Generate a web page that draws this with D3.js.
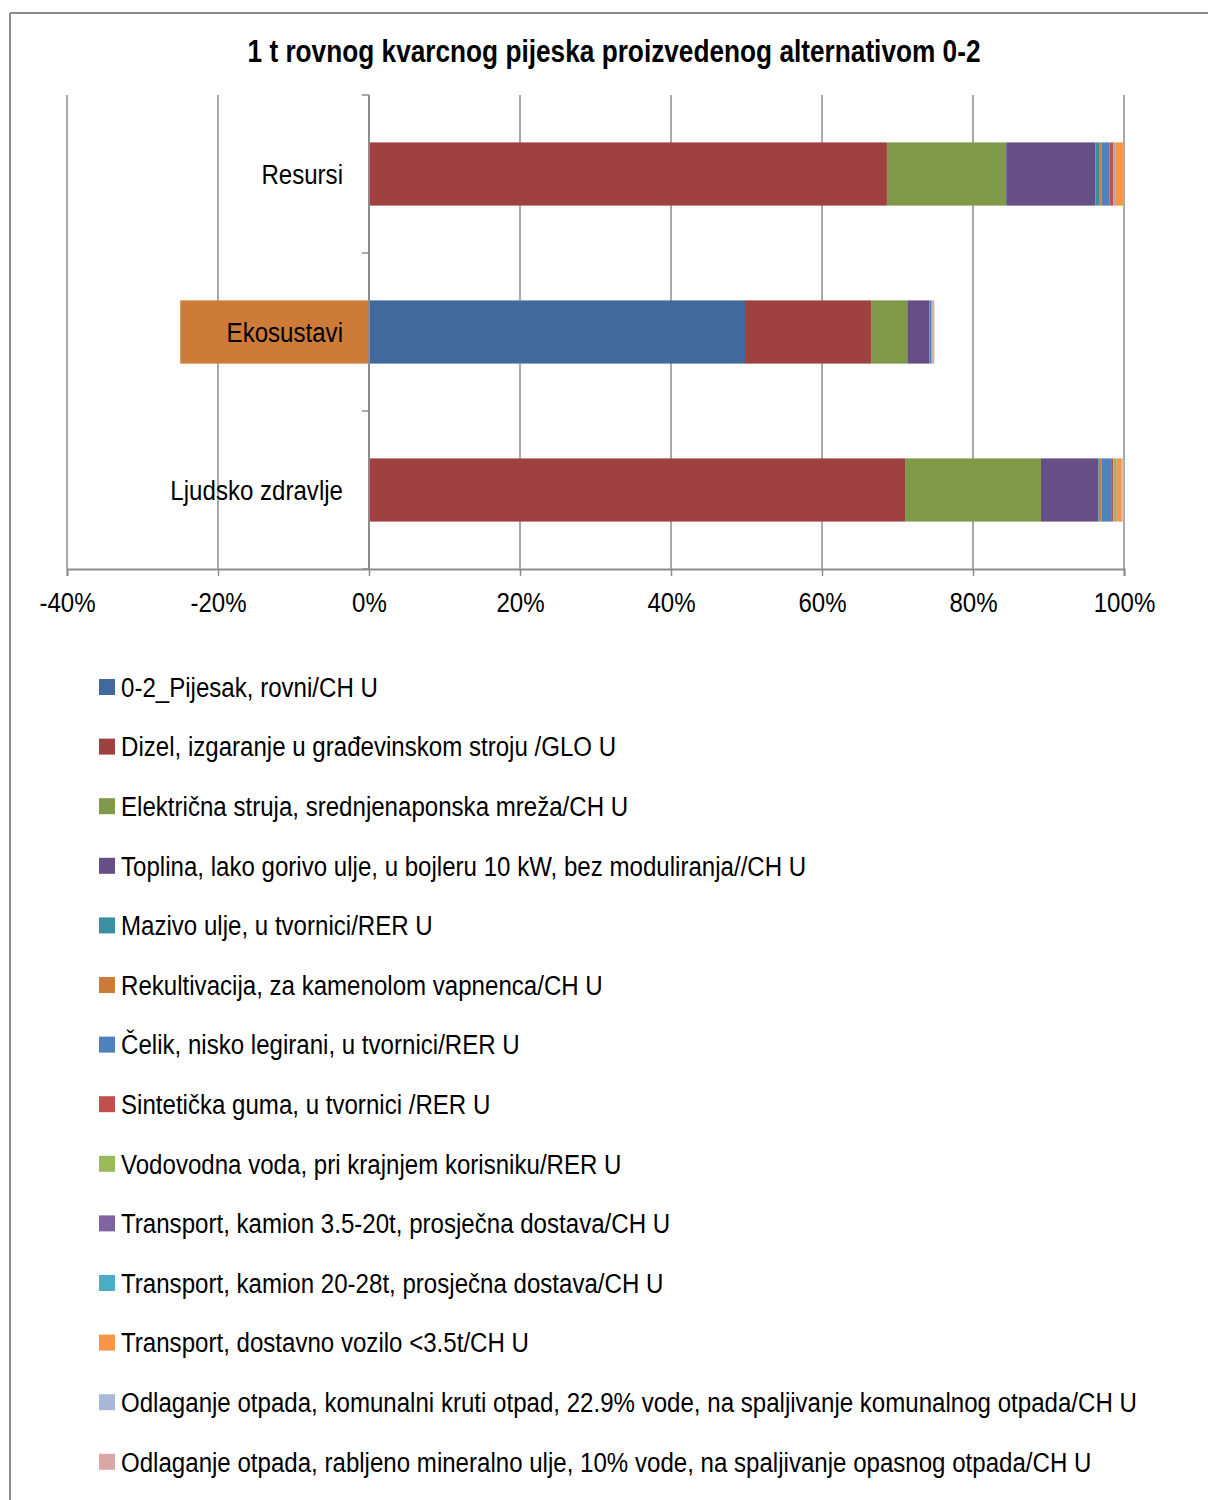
<!DOCTYPE html>
<html>
<head>
<meta charset="utf-8">
<script src="https://cdn.jsdelivr.net/npm/d3@7"></script>
<style>
  body { margin: 0; background: #fff; }
  text { font-family: "Liberation Sans", Arial, sans-serif; fill: #000; }
</style>
</head>
<body>
<div id="chart"></div>
<script>
// categories, top to bottom
var categories = ["Resursi", "Ekosustavi", "Ljudsko zdravlje"];

var seriesNames = [
    "0-2_Pijesak, rovni/CH U",
    "Dizel, izgaranje u građevinskom stroju /GLO U",
    "Električna struja, srednjenaponska mreža/CH U",
    "Toplina, lako gorivo ulje, u bojleru 10 kW, bez moduliranja//CH U",
    "Mazivo ulje, u tvornici/RER U",
    "Rekultivacija, za kamenolom vapnenca/CH U",
    "Čelik, nisko legirani, u tvornici/RER U",
    "Sintetička guma, u tvornici /RER U",
    "Vodovodna voda, pri krajnjem korisniku/RER U",
    "Transport, kamion 3.5-20t, prosječna dostava/CH U",
    "Transport, kamion 20-28t, prosječna dostava/CH U",
    "Transport, dostavno vozilo <3.5t/CH U",
    "Odlaganje otpada, komunalni kruti otpad, 22.9% vode, na spaljivanje komunalnog otpada/CH U",
    "Odlaganje otpada, rabljeno mineralno ulje, 10% vode, na spaljivanje opasnog otpada/CH U"
];

// share in % per category (Resursi, Ekosustavi, Ljudsko zdravlje)
var pijesak     = [0, 49.8, 0];
var dizel       = [68.6, 16.7, 71.0];
var struja      = [15.8, 4.8, 18.0];
var toplina     = [11.8, 2.9, 7.6];
var mazivo      = [0.5, 0.1, 0.2];
var rekult      = [0.3, -25.0, 0.2];
var celik       = [1.1, 0.15, 1.4];
var guma        = [0.5, 0.05, 0.2];
var voda        = [0.15, 0.05, 0.2];
var kamion35    = [0.1, 0.05, 0.1];
var kamion2028  = [0.05, 0.05, 0.1];
var dostavno    = [1.0, 0.15, 0.7];
var otpadKom    = [0.05, 0.05, 0.1];
var otpadUlje   = [0.05, 0.05, 0.2];

var seriesValues = [pijesak, dizel, struja, toplina, mazivo, rekult, celik, guma,
                    voda, kamion35, kamion2028, dostavno, otpadKom, otpadUlje];

var colors = ["#41699c", "#9e4140", "#80994a", "#664f85", "#3c8fa3", "#cc7b38",
              "#4f81bd", "#c0504d", "#9bbb59", "#8064a2", "#4bacc6", "#f79646",
              "#a7b9d7", "#d9a7a6"];

var xTicks = [-0.4, -0.2, 0, 0.2, 0.4, 0.6, 0.8, 1.0];

var width = 1208, height = 1500;
var plot = {left: 67, right: 1124, top: 95, bottom: 569};
var squeeze = "scale(0.86,1)";   // narrow look of the original font

var svg = d3.select("#chart").append("svg")
    .attr("width", width)
    .attr("height", height);

// outer frame (top and left edge visible)
svg.append("line").attr("x1", 10).attr("x2", width).attr("y1", 13).attr("y2", 13)
    .attr("stroke", "#8c8c8c").attr("stroke-width", 2);
svg.append("line").attr("x1", 10).attr("x2", 10).attr("y1", 13).attr("y2", height)
    .attr("stroke", "#8c8c8c").attr("stroke-width", 2);

svg.append("g").attr("transform", "translate(614,62)")
  .append("text")
    .attr("transform", squeeze)
    .attr("text-anchor", "middle")
    .style("font-size", "30.5px").style("font-weight", "bold")
    .text("1 t rovnog kvarcnog pijeska proizvedenog alternativom 0-2");

var x = d3.scaleLinear().domain([-0.4, 1.0]).range([plot.left, plot.right]);
var y = d3.scaleBand().domain(categories).range([plot.top, plot.bottom]).paddingInner(0.6).paddingOuter(0.3);
var yBand = d3.scaleBand().domain(categories).range([plot.top, plot.bottom]);

// gridlines
svg.append("g").selectAll("line").data(xTicks).enter().append("line")
    .attr("x1", function(d){ return x(d); })
    .attr("x2", function(d){ return x(d); })
    .attr("y1", plot.top).attr("y2", plot.bottom)
    .attr("stroke", "#8c8c8c").attr("stroke-width", 1.5);

// table for stacking
var table = categories.map(function(c, i){
    var row = {category: c};
    seriesNames.forEach(function(s, j){ row[s] = seriesValues[j][i] / 100; });
    return row;
});

var stack = d3.stack().keys(seriesNames).offset(d3.stackOffsetDiverging);
var layers = stack(table);

svg.append("g").selectAll("g").data(layers).enter().append("g")
    .attr("fill", function(d, i){ return colors[i]; })
    .selectAll("rect").data(function(d){ return d; }).enter().append("rect")
    .attr("x", function(d){ return x(Math.min(d[0], d[1])); })
    .attr("width", function(d){ return Math.abs(x(d[1]) - x(d[0])); })
    .attr("y", function(d){ return y(d.data.category); })
    .attr("height", y.bandwidth());

// x axis
var pct = d3.format(".0%");
var xAxis = d3.axisBottom(x).tickValues(xTicks)
    .tickFormat(function(d){ return pct(d).replace("\u2212", "-"); })
    .tickSize(7).tickPadding(16);
var gx = svg.append("g").attr("transform", "translate(0," + plot.bottom + ")").call(xAxis);
gx.select(".domain").attr("stroke", "#8c8c8c").attr("stroke-width", 2);
gx.selectAll(".tick line").attr("stroke", "#8c8c8c").attr("stroke-width", 1.5);
gx.selectAll(".tick text").style("font-size", "28px").attr("fill", "#000")
    .attr("transform", squeeze)
    .style("font-family", "'Liberation Sans', Arial, sans-serif");

// y axis at 0 with tick marks between categories
var yTicks = [plot.top].concat(categories.map(function(c){ return yBand(c) + yBand.bandwidth(); }));
svg.append("line").attr("x1", x(0)).attr("x2", x(0)).attr("y1", plot.top).attr("y2", plot.bottom)
    .attr("stroke", "#8c8c8c").attr("stroke-width", 2);
svg.append("g").selectAll("line").data(yTicks).enter().append("line")
    .attr("x1", x(0) - 7).attr("x2", x(0))
    .attr("y1", function(d){ return d; }).attr("y2", function(d){ return d; })
    .attr("stroke", "#8c8c8c").attr("stroke-width", 1.5);

// category labels
svg.append("g").selectAll("g").data(categories).enter().append("g")
    .attr("transform", function(c){
        return "translate(" + (x(0) - 26) + "," + (yBand(c) + yBand.bandwidth() / 2) + ")";
    })
  .append("text")
    .attr("transform", squeeze)
    .attr("dy", "0.35em")
    .attr("text-anchor", "end")
    .style("font-size", "28px")
    .text(function(c){ return c; });

// legend
var legend = svg.append("g").selectAll("g").data(seriesNames).enter().append("g")
    .attr("transform", function(d, i){ return "translate(99," + (687 + i * 59.6) + ")"; });
legend.append("rect")
    .attr("x", 0).attr("y", -8).attr("width", 16).attr("height", 16)
    .attr("fill", function(d, i){ return colors[i]; });
legend.append("g").attr("transform", "translate(22,0)")
  .append("text")
    .attr("transform", squeeze)
    .attr("dy", "0.35em")
    .style("font-size", "28px")
    .text(function(d){ return d; });
</script>
</body>
</html>
